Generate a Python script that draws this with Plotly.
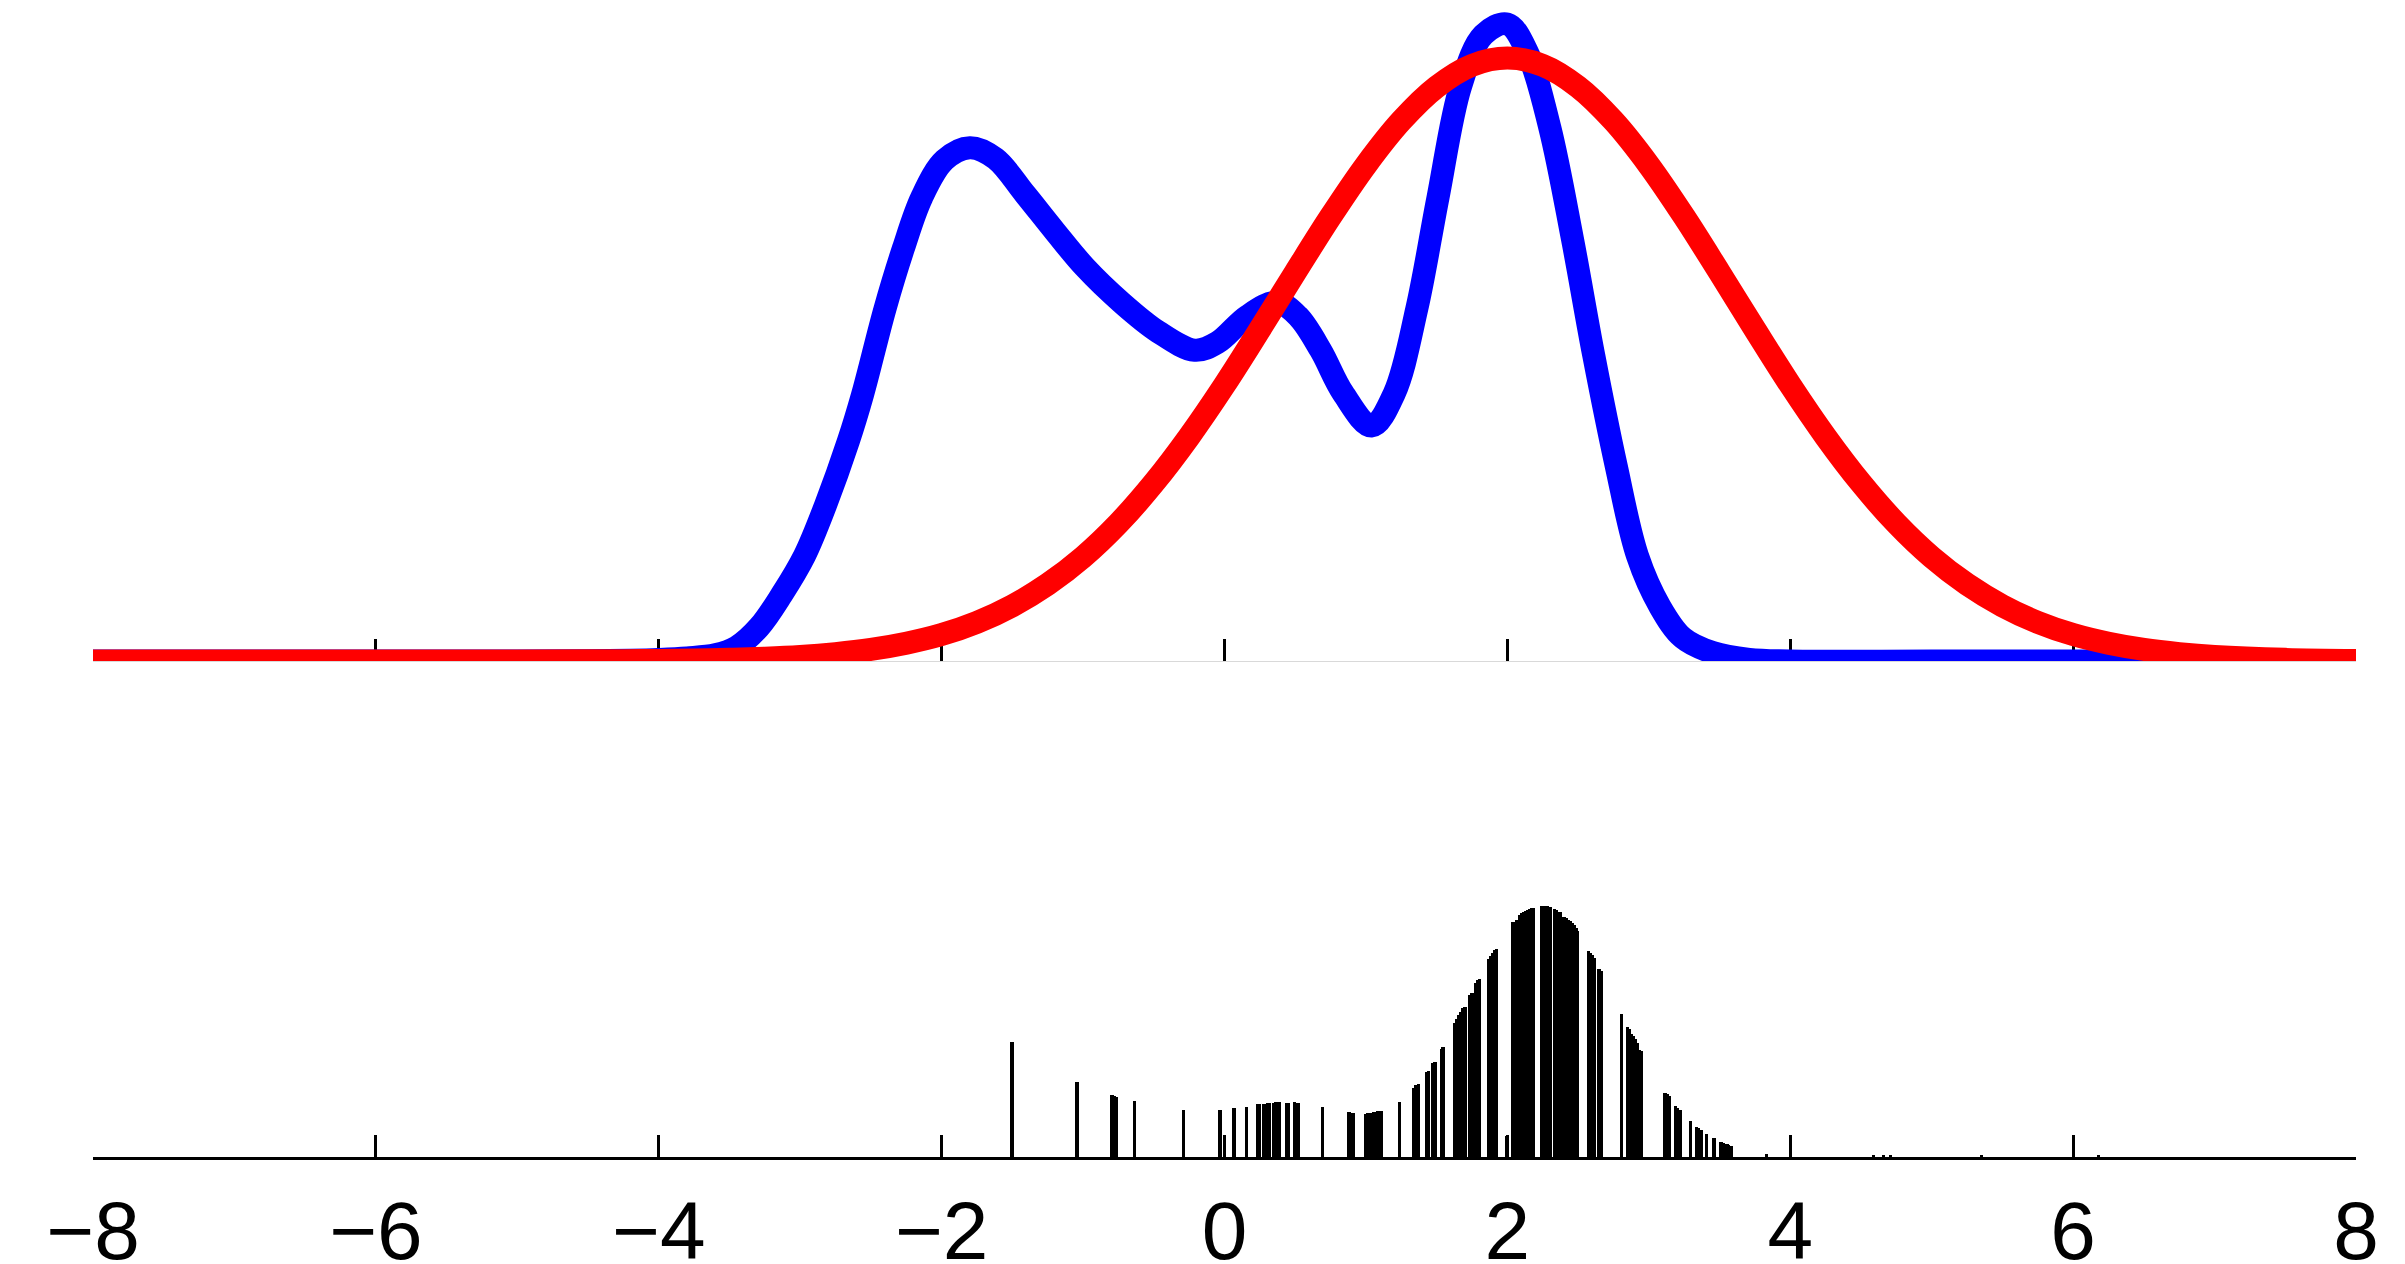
import plotly.graph_objects as go

# ---------------- data ----------------
# top panel: two density curves (arbitrary units)
blue_x = [-8, -6, -5, -4.5, -4.2, -4.0, -3.8, -3.6, -3.45, -3.29, -3.13, -2.97, -2.82, -2.66,
          -2.56, -2.40, -2.27, -2.14, -1.98, -1.80, -1.62, -1.41, -1.20, -0.99, -0.73,
          -0.47, -0.21, -0.05, 0.16, 0.37, 0.52, 0.68, 0.84, 1.04, 1.20, 1.36, 1.51,
          1.67, 1.83, 2.00, 2.14, 2.30, 2.46, 2.61, 2.77, 2.92, 3.08, 3.24, 3.45,
          3.71, 4.0, 5.0, 6.0, 8.0]
blue_y = [0, 0, 0, 0.2, 0.5, 1, 2, 4, 9, 22, 43, 68, 101, 142,
          172, 228, 267, 300, 324, 332, 325, 302, 278, 255, 232,
          213, 201, 206, 223, 232, 223, 201, 173, 152, 173, 228, 300,
          372, 405, 412, 394, 345, 273, 198, 126, 68, 35, 15, 5.5,
          1, 0, 0, 0, 0]

red_x = [-8, -7, -6, -5, -4.5, -4.25, -4, -3.75, -3.5, -3.25, -3, -2.75, -2.5, -2.25,
         -2, -1.75, -1.5, -1.25, -1, -0.75, -0.5, -0.25, 0, 0.25, 0.5, 0.75, 1, 1.25,
         1.5, 1.75, 2, 2.25, 2.5, 2.75, 3, 3.25, 3.5, 3.75, 4, 4.25, 4.5, 4.75, 5,
         5.25, 5.5, 5.75, 6, 6.25, 6.5, 6.75, 7, 7.5, 8]
red_y = [0, 0, 0, 0, 0.1, 0.2, 0.35, 0.6, 1.06, 1.8, 2.95, 4.8, 7.5, 11.5,
         17.1, 25, 35.7, 49.6, 67.2, 89, 115.1, 145.1, 178.5, 214.5, 251.3, 287.4, 320.8, 349.4,
         371.4, 385.3, 390, 385.3, 371.4, 349.4, 320.8, 287.4, 251.3, 214.5, 178.5, 145.1, 115.1, 89, 67.2,
         49.6, 35.7, 25, 17.1, 11.5, 7.5, 4.8, 2.95, 1.06, 0.35]

# bottom panel: stem positions and heights (arbitrary units)
stem_x = [-1.502, -1.043, -0.796, -0.779, -0.761, -0.636, -0.290, -0.031, 0.000, 0.068,
          0.158, 0.235, 0.247, 0.275, 0.290, 0.304, 0.318, 0.346, 0.360, 0.374, 0.386,
          0.436, 0.450, 0.497, 0.511, 0.525, 0.694, 0.880, 0.895, 0.911,
          0.998, 1.012, 1.026, 1.040, 1.054, 1.068, 1.083, 1.097, 1.111,
          1.236, 1.337, 1.354, 1.370, 1.427, 1.441, 1.474, 1.488, 1.532, 1.545,
          1.624, 1.641, 1.655, 1.669, 1.683, 1.700, 1.735, 1.749, 1.775, 1.789, 1.803,
          1.867, 1.881, 1.895, 1.909, 1.923, 1.996, 2.039, 2.053, 2.064,
          2.088, 2.102, 2.116, 2.131, 2.145, 2.159, 2.173, 2.187,
          2.244, 2.258, 2.272, 2.286, 2.302, 2.333, 2.347, 2.361, 2.378,
          2.401, 2.415, 2.429, 2.444, 2.458, 2.472, 2.486, 2.498,
          2.573, 2.587, 2.601, 2.615, 2.648, 2.662, 2.806,
          2.848, 2.862, 2.876, 2.891, 2.905, 2.919, 2.933, 2.945,
          3.114, 3.129, 3.143, 3.190, 3.204, 3.220, 3.296, 3.338, 3.352, 3.369,
          3.406, 3.460, 3.510, 3.524, 3.538, 3.552, 3.566, 3.581, 3.830,
          4.59, 4.66, 4.71, 5.35, 6.18]
stem_h = [115, 74.7, 61.7, 61, 60.3, 55.7, 47, 47, 21.3, 48.7,
          50.3, 52.7, 52.7, 53, 53.3, 53.7, 54, 54.3, 54.7, 54.7, 54.7,
          54.3, 54.3, 54.7, 54.3, 53.7, 50, 44.7, 44, 43.7,
          43.3, 43.7, 44, 44.3, 44.7, 45, 45.7, 46, 46.3,
          55.3, 69.3, 72, 73.3, 85, 86.3, 93.7, 95, 107.7, 110.3,
          134.3, 137.7, 142, 144.7, 148.7, 150.3, 162, 163.7, 173.7, 177, 178,
          198.3, 201, 204.3, 207, 208, 21, 234.7, 235.3, 237,
          242, 243.7, 245.3, 246, 247, 247.7, 248.7, 249,
          251, 251.3, 251.3, 251, 250.3, 247.7, 247, 245.3, 244.7,
          239.7, 238.7, 237, 236.3, 234.3, 232, 228.7, 226.3,
          206.3, 204.3, 202, 198.7, 187.7, 186, 143,
          129.7, 127.7, 123, 121, 117.7, 113.7, 107, 106.3,
          64.3, 63, 61, 51.3, 49, 47, 36.3, 29.7, 29, 27,
          23, 18.7, 14.7, 14, 13.3, 12.7, 12, 11.3, 3.5,
          1.5, 1.5, 1.5, 1.5, 1.5]

x_ticks = [-8, -6, -4, -2, 0, 2, 4, 6, 8]

# ---------------- figure ----------------
W, H = 2405, 1264
ML, MR, MT, MB = 93, 49, 0, 107
plot_h = H - MT - MB
top_base = 661      # pixel row of the top panel baseline
top_scale = 1.546   # pixels per data unit in top panel
bot_top = 880       # pixel row of the top of the bottom panel

fig = go.Figure()

fig.add_trace(go.Scatter(x=blue_x, y=blue_y, mode="lines",
                         line=dict(color="#0000FF", width=23, shape="spline", smoothing=1.0),
                         xaxis="x", yaxis="y", showlegend=False, hoverinfo="skip"))
fig.add_trace(go.Scatter(x=red_x, y=red_y, mode="lines",
                         line=dict(color="#FF0000", width=23, shape="spline", smoothing=1.0),
                         xaxis="x", yaxis="y", showlegend=False, hoverinfo="skip"))

fig.add_trace(go.Bar(x=stem_x, y=stem_h, width=0.023,
                     marker=dict(color="black", line=dict(width=0)),
                     xaxis="x2", yaxis="y2", showlegend=False, hoverinfo="skip"))

axis_common = dict(range=[-8, 8], tickmode="array", tickvals=x_ticks,
                   ticks="inside", ticklen=22, tickwidth=3, tickcolor="black",
                   showgrid=False, zeroline=False, fixedrange=True)

top_px = top_base - MT
fig.update_layout(
    width=W, height=H,
    margin=dict(l=ML, r=MR, t=MT, b=MB, pad=0, autoexpand=False),
    paper_bgcolor="white", plot_bgcolor="white",
    bargap=0,
    xaxis=dict(**axis_common, anchor="y", showticklabels=False, layer="below traces",
               showline=True, linecolor="#d9d9d9", linewidth=1),
    yaxis=dict(domain=[(plot_h - top_px) / plot_h, 1.0],
               range=[0, top_px / top_scale], visible=False, fixedrange=True),
    xaxis2=dict(**axis_common, anchor="y2", showticklabels=True,
                showline=True, linecolor="black", linewidth=3,
                tickfont=dict(family="Liberation Sans, Arial, Helvetica, sans-serif",
                              size=82, color="black"),
                ticklabelstandoff=1),
    yaxis2=dict(domain=[0, (plot_h - (bot_top - MT)) / plot_h],
                range=[0, plot_h - (bot_top - MT)], visible=False, fixedrange=True),
)

fig.write_html("out.html", config={"displayModeBar": False, "responsive": False},
               post_script="document.body.style.margin='0';document.body.style.overflow='hidden';")
